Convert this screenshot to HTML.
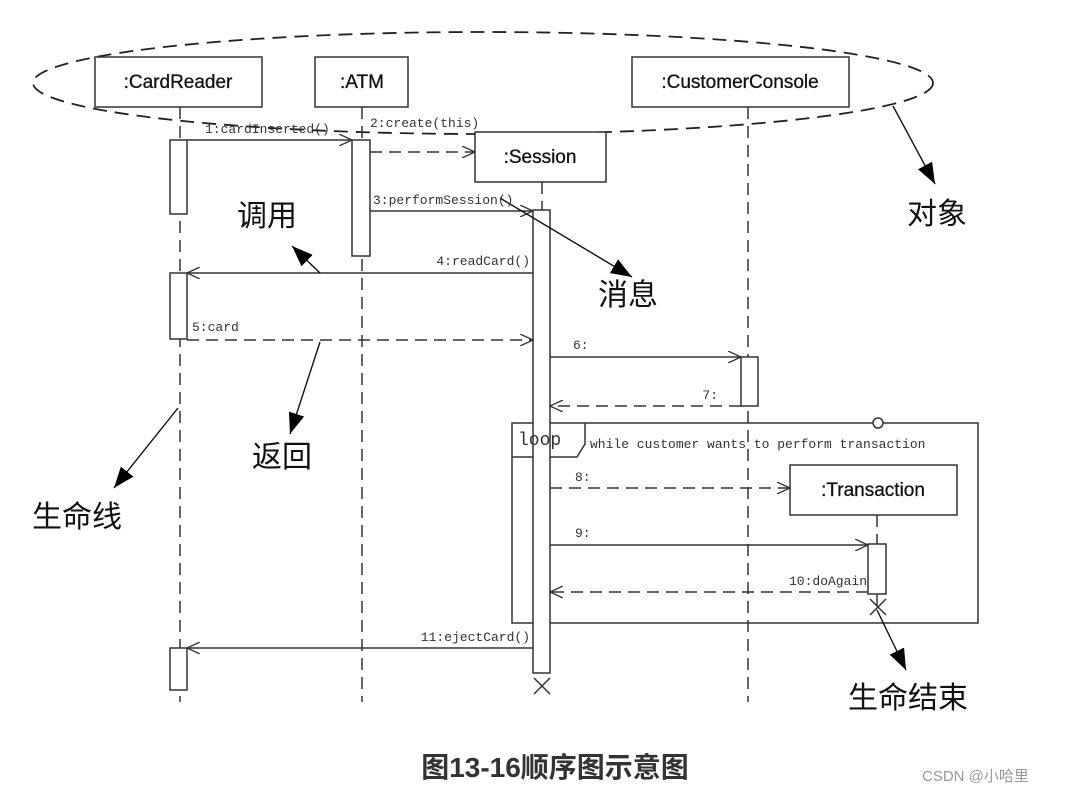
<!DOCTYPE html>
<html><head><meta charset="utf-8"><style>
html,body{margin:0;padding:0;background:#fff}
svg{display:block}
.m{font-family:"Liberation Mono",monospace;font-size:13px;fill:#333}
.b{font-family:"Liberation Sans","DejaVu Sans",sans-serif;font-size:19px;fill:#111;stroke:#111;stroke-width:0.3}
.c{font-family:"Liberation Sans","Noto Sans CJK SC",sans-serif;font-size:30px;fill:#111}
</style></head><body>
<svg width="1069" height="793" viewBox="0 0 1069 793" xmlns="http://www.w3.org/2000/svg">
<defs>
<marker id="o" markerWidth="14" markerHeight="12" refX="13" refY="6" orient="auto" markerUnits="userSpaceOnUse"><path d="M0,0 L13,6 L0,12" fill="none" stroke="#333" stroke-width="1.3"/></marker>
<marker id="f" markerWidth="22" markerHeight="16" refX="21" refY="8" orient="auto" markerUnits="userSpaceOnUse"><path d="M0,0 L21,8 L0,16 Z" fill="#000"/></marker>
</defs>
<g fill="none" stroke="#333" stroke-width="1.5">
<ellipse cx="483" cy="83" rx="450" ry="51" stroke-dasharray="14,8" stroke="#222" stroke-width="1.8"/>
<g stroke-dasharray="12,7">
<line x1="180" y1="107" x2="180" y2="702"/>
<line x1="362" y1="107" x2="362" y2="702"/>
<line x1="542" y1="182" x2="542" y2="210"/>
<line x1="748" y1="107" x2="748" y2="702"/>
<line x1="877" y1="515" x2="877" y2="544"/>
</g>
<line x1="877" y1="594" x2="877" y2="606"/>
<rect x="95" y="57" width="167" height="50" fill="#fff"/>
<rect x="315" y="57" width="93" height="50" fill="#fff"/>
<rect x="632" y="57" width="217" height="50" fill="#fff"/>
<rect x="475" y="132" width="131" height="50" fill="#fff"/>
<rect x="790" y="465" width="167" height="50" fill="#fff"/>
<rect x="512" y="423" width="466" height="200"/>
<path d="M512,457 L577,457 L585,444 L585,423"/>
<circle cx="878" cy="423" r="5" fill="#fff"/>
<rect x="170" y="140" width="17" height="74" fill="#fff"/>
<rect x="170" y="273" width="17" height="66" fill="#fff"/>
<rect x="170" y="648" width="17" height="42" fill="#fff"/>
<rect x="352" y="140" width="18" height="116" fill="#fff"/>
<rect x="533" y="210" width="17" height="463" fill="#fff"/>
<rect x="741" y="357" width="17" height="49" fill="#fff"/>
<rect x="868" y="544" width="18" height="50" fill="#fff"/>
<line x1="187" y1="140" x2="352" y2="140" marker-end="url(#o)"/>
<line x1="370" y1="152" x2="475" y2="152" stroke-dasharray="12,7" marker-end="url(#o)"/>
<line x1="370" y1="211" x2="533" y2="211" marker-end="url(#o)"/>
<line x1="533" y1="273" x2="187" y2="273" marker-end="url(#o)"/>
<line x1="187" y1="340" x2="533" y2="340" stroke-dasharray="12,7" marker-end="url(#o)"/>
<line x1="550" y1="357" x2="741" y2="357" marker-end="url(#o)"/>
<line x1="741" y1="406" x2="550" y2="406" stroke-dasharray="12,7" marker-end="url(#o)"/>
<line x1="550" y1="488" x2="790" y2="488" stroke-dasharray="12,7" marker-end="url(#o)"/>
<line x1="550" y1="545" x2="868" y2="545" marker-end="url(#o)"/>
<line x1="868" y1="592" x2="550" y2="592" stroke-dasharray="12,7" marker-end="url(#o)"/>
<line x1="533" y1="648" x2="187" y2="648" marker-end="url(#o)"/>
<path d="M870,599 L886,615 M886,599 L870,615"/>
<path d="M534,678 L550,694 M550,678 L534,694"/>
</g>
<g stroke="#111" stroke-width="1.4" fill="none">
<line x1="320" y1="273" x2="292" y2="246" marker-end="url(#f)"/>
<line x1="500" y1="198" x2="632" y2="277" marker-end="url(#f)"/>
<line x1="893" y1="106" x2="935" y2="184" marker-end="url(#f)"/>
<line x1="320" y1="342" x2="290" y2="434" marker-end="url(#f)"/>
<line x1="178" y1="408" x2="114" y2="488" marker-end="url(#f)"/>
<line x1="877" y1="610" x2="906" y2="670" marker-end="url(#f)"/>
</g>
<text class="b" x="178" y="88" text-anchor="middle">:CardReader</text>
<text class="b" x="362" y="88" text-anchor="middle">:ATM</text>
<text class="b" x="740" y="88" text-anchor="middle">:CustomerConsole</text>
<text class="b" x="540" y="163" text-anchor="middle">:Session</text>
<text class="b" x="873" y="496" text-anchor="middle">:Transaction</text>
<text class="m" x="205" y="133">1:cardInserted()</text>
<text class="m" x="370" y="127">2:create(this)</text>
<text class="m" x="373" y="204">3:performSession()</text>
<text class="m" x="530" y="265" text-anchor="end">4:readCard()</text>
<text class="m" x="192" y="331">5:card</text>
<text class="m" x="573" y="349">6:</text>
<text class="m" x="718" y="399" text-anchor="end">7:</text>
<text class="m" x="518" y="445" style="font-size:18px">loop</text>
<text class="m" x="590" y="448" style="font-size:13px">while customer wants to perform transaction</text>
<text class="m" x="575" y="481">8:</text>
<text class="m" x="575" y="537">9:</text>
<text class="m" x="867" y="585" text-anchor="end">10:doAgain</text>
<text class="m" x="530" y="641" text-anchor="end">11:ejectCard()</text>
<text class="c" x="237" y="226">调用</text>
<text class="c" x="598" y="305">消息</text>
<text class="c" x="907" y="224">对象</text>
<text class="c" x="252" y="467">返回</text>
<text class="c" x="32" y="527">生命线</text>
<text class="c" x="848" y="708">生命结束</text>
<text x="555" y="777" text-anchor="middle" style="font-family:'Liberation Sans','Noto Sans CJK SC',sans-serif;font-size:28px;font-weight:bold;fill:#333">图13-16顺序图示意图</text>
<text x="922" y="781" style="font-family:'Liberation Sans','Noto Sans CJK SC',sans-serif;font-size:15px;fill:#999">CSDN @小哈里</text>
</svg>
</body></html>
